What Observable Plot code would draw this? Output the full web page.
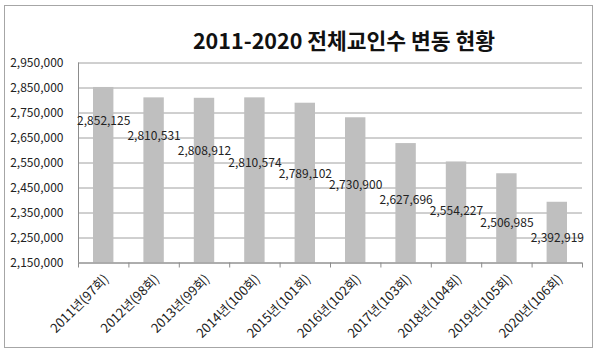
<!DOCTYPE html>
<html><head><meta charset="utf-8">
<script src="https://cdn.jsdelivr.net/npm/d3@7"></script>
<script src="https://cdn.jsdelivr.net/npm/@observablehq/plot@0.6"></script>
<style>
body{margin:0;background:#fff;}
#wrap{position:relative;width:600px;height:354px;overflow:hidden;font-family:"Noto Sans CJK KR","Noto Sans",sans-serif;}
#frame{position:absolute;left:4px;top:5px;width:589px;height:343px;border:1px solid #a6a6a6;box-sizing:border-box;pointer-events:none;}
#title{position:absolute;left:89px;top:26px;width:510px;text-align:center;font-size:21.5px;font-weight:bold;line-height:28px;color:#111;}
#chart{position:absolute;left:0;top:0;}
</style></head>
<body>
<div id="wrap"><div id="chart"></div><div id="frame"></div><div id="title">2011-2020 전체교인수 변동 현황</div></div>
<script>
const years = ["2011년(97회)","2012년(98회)","2013년(99회)","2014년(100회)","2015년(101회)","2016년(102회)","2017년(103회)","2018년(104회)","2019년(105회)","2020년(106회)"];
const members = [2852125,2810531,2808912,2810574,2789102,2730900,2627696,2554227,2506985,2392919];
// where each value label sits (in members units), as placed in the original chart
const labelAt = [2716000,2656000,2598000,2549000,2504000,2462000,2402000,2356000,2309000,2250000];
const yTicks = [2150000,2250000,2350000,2450000,2550000,2650000,2750000,2850000,2950000];
const slots = [0,1,2,3,4,5,6,7,8,9,10];

const data = years.map((y,i)=>({i, year:y, v:members[i], at:labelAt[i]}));
const fmt = d3.format(",");

const chart = Plot.plot({
  width:600, height:354,
  marginLeft:78, marginRight:18, marginTop:62.5, marginBottom:91.5,
  x:{type:"linear", domain:[0,10]},
  y:{domain:[2150000,2950000]},
  style:{fontFamily:'"Noto Sans CJK KR","Noto Sans",sans-serif', fontSize:"12px", color:"#222", background:"transparent"},
  marks:[
    Plot.gridY(yTicks, {stroke:"#a0a0a0", strokeOpacity:1}),
    Plot.rect(data, {x1:"i", x2:d=>d.i+1, y1:2150000, y2:"v", insetLeft:15, insetRight:15, fill:"#bfbfbf"}),
    Plot.ruleX([0], {stroke:"#8c8c8c"}),
    Plot.ruleY([2150000], {stroke:"#8c8c8c"}),
    Plot.axisY(yTicks, {tickSize:0, tickPadding:15, tickFormat:fmt, label:null, fill:"#222", fontSize:12}),
    Plot.axisX(slots, {tickSize:5, tickFormat:()=>"", label:null, stroke:"#8c8c8c"}),
    Plot.axisX(data.map(d=>d.i+0.5), {tickSize:0, tickRotate:-45, tickPadding:14, dx:3, tickFormat:d=>years[Math.floor(d)], label:null, fill:"#222", fontSize:13}),
    Plot.text(data, {x:d=>d.i+0.5, y:"at", text:d=>fmt(d.v), fill:"#222", fontSize:12})
  ]
});
document.getElementById("chart").appendChild(chart);
</script>
</body></html>
